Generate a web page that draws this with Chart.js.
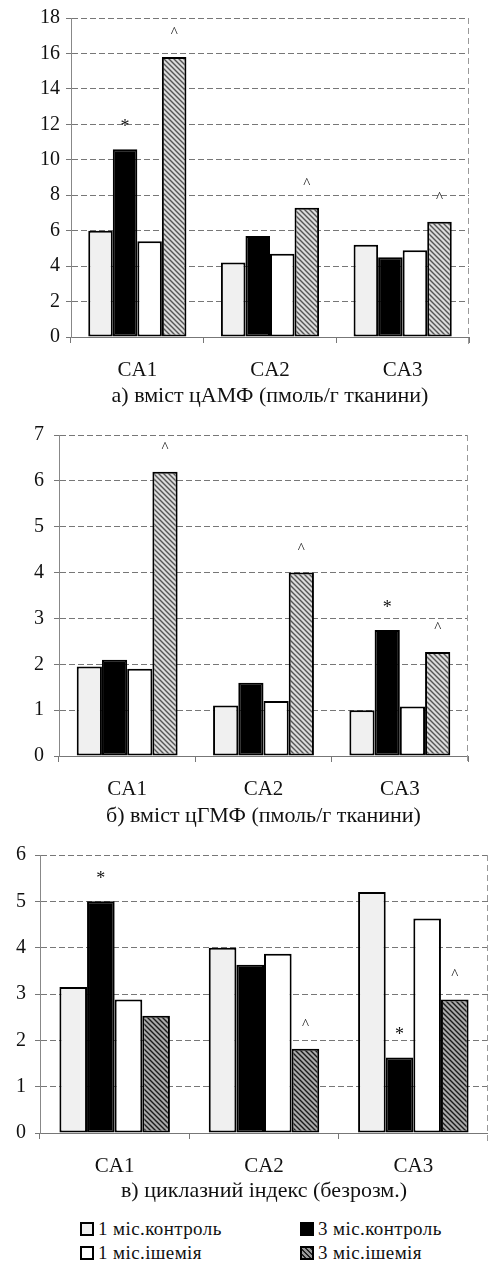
<!DOCTYPE html>
<html lang="uk">
<head>
    <meta charset="UTF-8">
    <title>цАМФ, цГМФ, циклазний індекс</title>
    <script src="https://cdn.jsdelivr.net/npm/chart.js"></script>
    <style>
        body { margin: 0; background: #fff; width: 488px; height: 1263px; position: relative; overflow: hidden; font-family: 'Liberation Serif', 'Times New Roman', serif; }
        .box { position: absolute; left: 0; width: 488px; }
        .legend { position: absolute; font-size: 19px; letter-spacing: 0.4px; color: #111; line-height: 20px; white-space: nowrap; }
        .legend span.sw { display: inline-block; width: 10px; height: 10px; border: 2px solid #000; margin-right: 4px; vertical-align: -1px; }
    </style>
</head>
<body>
    <div class="box" style="top:0;height:410px"><canvas id="chartA"></canvas></div>
    <div class="box" style="top:420px;height:410px"><canvas id="chartB"></canvas></div>
    <div class="box" style="top:840px;height:365px"><canvas id="chartC"></canvas></div>

    <div class="legend" style="left:80px;top:1219px"><span class="sw" style="background:#f0f0f0"></span>1 міс.контроль</div>
    <div class="legend" style="left:300px;top:1219px"><span class="sw" style="background:#000"></span>3 міс.контроль</div>
    <div class="legend" style="left:80px;top:1243px"><span class="sw" style="background:#fff"></span>1 міс.ішемія</div>
    <div class="legend" style="left:300px;top:1243px"><span class="sw" style="background:repeating-linear-gradient(45deg,#999 0 2px,#222 2px 3.5px)"></span>3 міс.ішемія</div>

    <script>
        const categories = ['CA1', 'CA2', 'CA3'];
        const seriesNames = ['1 міс.контроль', '3 міс.контроль', '1 міс.ішемія', '3 міс.ішемія'];

        // а) вміст цАМФ
        const campControl1 = [6.0, 4.2, 5.2];
        const campControl3 = [10.6, 5.7, 4.5];
        const campIschemia1 = [5.4, 4.7, 4.9];
        const campIschemia3 = [15.8, 7.3, 6.5];
        const campMarksControl3 = ['*', '', ''];
        const campMarksIschemia3 = ['^', '^', '^'];

        // б) вміст цГМФ
        const cgmpControl1 = [1.95, 1.1, 1.0];
        const cgmpControl3 = [2.1, 1.6, 2.75];
        const cgmpIschemia1 = [1.9, 1.2, 1.08];
        const cgmpIschemia3 = [6.2, 4.0, 2.27];
        const cgmpMarksControl3 = ['', '', '*'];
        const cgmpMarksIschemia3 = ['^', '^', '^'];

        // в) циклазний індекс
        const indexControl1 = [3.15, 4.0, 5.2];
        const indexControl3 = [5.0, 3.63, 1.63];
        const indexIschemia1 = [2.88, 3.87, 4.63];
        const indexIschemia3 = [2.53, 1.82, 2.88];
        const indexMarksControl3 = ['*', '', '*'];
        const indexMarksIschemia3 = ['', '^', '^'];

        const serif = "'Liberation Serif', 'Times New Roman', serif";
        Chart.defaults.font.family = serif;

        function hatch(bg, fg) {
            const c = document.createElement('canvas');
            c.width = 5; c.height = 5;
            const g = c.getContext('2d');
            g.fillStyle = bg;
            g.fillRect(0, 0, 5, 5);
            g.strokeStyle = fg;
            g.lineWidth = 1.4;
            g.beginPath();
            g.moveTo(-1, -1); g.lineTo(6, 6);
            g.moveTo(-1, 4); g.lineTo(1, 6);
            g.moveTo(4, -1); g.lineTo(6, 1);
            g.stroke();
            return g.createPattern(c, 'repeat');
        }

        // draws * and ^ above bars, plus dashed right border
        const marksPlugin = {
            id: 'marks',
            afterDatasetsDraw(chart) {
                const ctx = chart.ctx;
                const area = chart.chartArea;
                ctx.save();
                ctx.strokeStyle = '#999';
                ctx.lineWidth = 1;
                ctx.setLineDash([6, 4]);
                ctx.beginPath();
                ctx.moveTo(area.right - 0.5, area.top);
                ctx.lineTo(area.right - 0.5, area.bottom + 8);
                ctx.stroke();
                ctx.setLineDash([]);
                ctx.fillStyle = '#111';
                ctx.textAlign = 'center';
                ctx.textBaseline = 'middle';
                chart.data.datasets.forEach((ds, i) => {
                    if (!ds.marks) return;
                    chart.getDatasetMeta(i).data.forEach((bar, j) => {
                        const m = ds.marks[j];
                        if (!m) return;
                        ctx.font = (m === '*' ? '18px ' : '15px ') + serif;
                        ctx.fillText(m, bar.x, bar.y - (m === '*' ? 22 : 24));
                    });
                });
                ctx.restore();
            }
        };

        function makeChart(id, cfg) {
            const fills = ['#f0f0f0', '#000000', '#ffffff', cfg.hatch];
            const values = [cfg.c1, cfg.c3, cfg.i1, cfg.i3];
            const marks = [null, cfg.m3c, null, cfg.m3i];
            return new Chart(document.getElementById(id), {
                type: 'bar',
                data: {
                    labels: categories,
                    datasets: values.map((v, k) => ({
                        label: seriesNames[k],
                        data: v,
                        backgroundColor: fills[k],
                        borderColor: '#000',
                        borderWidth: 2,
                        borderSkipped: false,
                        barPercentage: 1,
                        categoryPercentage: 0.74,
                        marks: marks[k]
                    }))
                },
                options: {
                    responsive: true,
                    maintainAspectRatio: false,
                    animation: false,
                    layout: { padding: { top: cfg.top, right: cfg.right, bottom: 1, left: 0 } },
                    plugins: { legend: { display: false }, tooltip: { enabled: false } },
                    scales: {
                        x: {
                            afterFit: s => { s.height = cfg.xHeight; s.paddingLeft = 0; s.paddingRight = 0; },
                            grid: { drawOnChartArea: false, tickLength: 6, color: '#777', offset: true },
                            border: { color: '#777', dash: [10, 3] },
                            ticks: { color: '#111', padding: 15, font: { family: serif, size: 21 } },
                            title: {
                                display: true,
                                text: cfg.caption,
                                color: '#111',
                                padding: { top: 0, bottom: 0 },
                                font: { family: serif, size: 22 }
                            }
                        },
                        y: {
                            min: 0,
                            max: cfg.max,
                            afterFit: s => { s.width = cfg.yWidth; s.paddingTop = 0; s.paddingBottom = 0; },
                            grid: { color: '#777', tickLength: 5 },
                            border: { color: '#888', dash: [6, 3] },
                            ticks: {
                                stepSize: cfg.step,
                                padding: cfg.tickPad,
                                color: '#111',
                                font: { family: serif, size: 20 }
                            }
                        }
                    }
                },
                plugins: [marksPlugin, {
                    id: 'dashGrid',
                    beforeDraw(chart) {
                        chart.scales.y.options.grid.borderDash = [14, 4];
                    }
                }]
            });
        }

        makeChart('chartA', {
            c1: campControl1, c3: campControl3, i1: campIschemia1, i3: campIschemia3,
            m3c: campMarksControl3, m3i: campMarksIschemia3,
            hatch: hatch('#dcdcdc', '#555'),
            max: 18, step: 2, top: 18, right: 19, yWidth: 71, xHeight: 72, tickPad: 6,
            caption: 'а) вміст цАМФ (пмоль/г тканини)'
        });

        makeChart('chartB', {
            c1: cgmpControl1, c3: cgmpControl3, i1: cgmpIschemia1, i3: cgmpIschemia3,
            m3c: cgmpMarksControl3, m3i: cgmpMarksIschemia3,
            hatch: hatch('#dcdcdc', '#555'),
            max: 7, step: 1, top: 15, right: 20, yWidth: 59, xHeight: 73, tickPad: 10,
            caption: 'б) вміст цГМФ (пмоль/г тканини)'
        });

        makeChart('chartC', {
            c1: indexControl1, c3: indexControl3, i1: indexIschemia1, i3: indexIschemia3,
            m3c: indexMarksControl3, m3i: indexMarksIschemia3,
            hatch: hatch('#aaaaaa', '#1a1a1a'),
            max: 6, step: 1, top: 15, right: 0, yWidth: 40, xHeight: 71, tickPad: 9,
            caption: 'в) циклазний індекс (безрозм.)'
        });
    </script>
</body>
</html>
